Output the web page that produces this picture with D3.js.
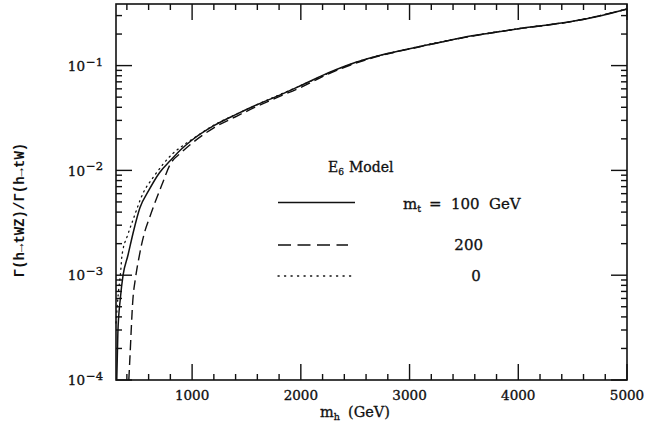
<!DOCTYPE html>
<html>
<head>
<meta charset="utf-8">
<script src="https://cdn.jsdelivr.net/npm/d3@7"></script>
<style>
  html, body { margin: 0; padding: 0; background: #fff; }
  svg { display: block; }
</style>
</head>
<body>
<svg id="chart" width="658" height="427"></svg>
<script>
// Ratio of partial widths Γ(h→tWZ)/Γ(h→tW) versus the Higgs mass, E6 model.

// Higgs mass (GeV) and width ratio for m_t = 100 GeV (solid)
const mhSolid = [307, 317, 340, 365, 410, 460, 520, 600, 700, 800, 900, 1000, 1200, 1400, 1600, 1800, 2000, 2250, 2500, 2750, 3000, 3250, 3500, 3750, 4000, 4250, 4500, 4750, 5000];
const ratioSolid = [1.0e-4, 2.8e-4, 6.0e-4, 1.0e-3, 1.55e-3, 2.6e-3, 4.4e-3, 6.4e-3, 9.5e-3, 0.0124, 0.0159, 0.0195, 0.0267, 0.0340, 0.0425, 0.0520, 0.0645, 0.0850, 0.107, 0.127, 0.145, 0.164, 0.186, 0.205, 0.225, 0.243, 0.265, 0.298, 0.347];

// m_t = 200 GeV (dashed)
const mhDashed = [418, 427, 455, 480, 510, 560, 611, 720, 800, 900, 1000, 1200, 1400, 1600, 1800, 2000, 2250, 2500, 2750, 3000, 3500, 4000, 4500, 5000];
const ratioDashed = [1.0e-4, 1.55e-4, 5.8e-4, 9.5e-4, 1.45e-3, 2.5e-3, 3.6e-3, 7.2e-3, 0.0115, 0.0148, 0.0182, 0.0255, 0.0325, 0.0410, 0.0505, 0.0620, 0.0830, 0.105, 0.126, 0.144, 0.185, 0.224, 0.264, 0.346];

// m_t = 0 (dotted)
const mhDotted = [300, 320, 344, 353, 363, 400, 455, 547, 650, 823, 900, 1000, 1200, 1400, 1600, 2000, 2500, 3000, 3500, 4000, 4500, 5000];
const ratioDotted = [3.5e-4, 6.5e-4, 1.12e-3, 1.48e-3, 1.73e-3, 2.3e-3, 3.34e-3, 6.0e-3, 8.8e-3, 0.0145, 0.0168, 0.0198, 0.0270, 0.0341, 0.0425, 0.0645, 0.107, 0.145, 0.186, 0.225, 0.265, 0.347];

// Axis ticks
const xMajorTicks = [1000, 2000, 3000, 4000, 5000];
const xMinorTicks = [400, 600, 800, 1200, 1400, 1600, 1800, 2200, 2400, 2600, 2800, 3200, 3400, 3600, 3800, 4200, 4400, 4600, 4800];
const yMajorTicks = [1e-4, 1e-3, 1e-2, 1e-1];
const yTickExponents = ["\u22124", "\u22123", "\u22122", "\u22121"];
const xDomain = [300, 5000];
const yDomain = [1e-4, 0.387];

// Legend
const legendTitle = ["E", "6", "Model"];
const legendLabels = ["100", "GeV", "200", "0"];

const svg = d3.select("#chart");
const ink = "#111";
const serif = "'DejaVu Serif', 'Liberation Serif', serif";

const margin = { left: 116, right: 627, top: 4, bottom: 380 };
const x = d3.scaleLinear().domain(xDomain).range([margin.left, margin.right]);
const y = d3.scaleLog().domain(yDomain).range([margin.bottom, margin.top]);

// y minor ticks: 2..9 within each decade inside the domain
const yMinorTicks = [];
for (let e = -4; e <= -1; e++) {
  for (let k = 2; k <= 9; k++) {
    const v = k * Math.pow(10, e);
    if (v < yDomain[1]) yMinorTicks.push(v);
  }
}

// Curves
const line = d3.line().x(d => x(d[0])).y(d => y(d[1])).curve(d3.curveMonotoneX);
const series = [
  { mh: mhDotted, r: ratioDotted, dash: "1.2,4.2", cap: "round", w: 1.3 },
  { mh: mhDashed, r: ratioDashed, dash: "10,5", cap: "butt", w: 1.4 },
  { mh: mhSolid, r: ratioSolid, dash: null, cap: "butt", w: 1.5 }
];
const plot = svg.append("g");
series.forEach(s => {
  plot.append("path")
    .datum(d3.zip(s.mh, s.r))
    .attr("d", line)
    .attr("fill", "none").attr("stroke", ink)
    .attr("stroke-width", s.w)
    .attr("stroke-linecap", s.cap)
    .attr("stroke-dasharray", s.dash);
});

// Frame
svg.append("rect")
  .attr("x", margin.left).attr("y", margin.top)
  .attr("width", margin.right - margin.left).attr("height", margin.bottom - margin.top)
  .attr("fill", "none").attr("stroke", ink).attr("stroke-width", 1.6);

// Inward-pointing tick marks on all four sides, drawn as thin filled bars
const majorLen = 16, minorLen = 6, tickW = 1.4;
const tickMarks = [];
xMajorTicks.forEach(v => tickMarks.push({ axis: "x", v, len: majorLen }));
xMinorTicks.forEach(v => tickMarks.push({ axis: "x", v, len: minorLen }));
yMajorTicks.forEach(v => tickMarks.push({ axis: "y", v, len: majorLen }));
yMinorTicks.forEach(v => tickMarks.push({ axis: "y", v, len: minorLen }));
const tickRects = [];
tickMarks.forEach(t => {
  if (t.axis === "x") {
    const px = x(t.v) - tickW / 2;
    tickRects.push({ x: px, y: margin.bottom - t.len, w: tickW, h: t.len });
    tickRects.push({ x: px, y: margin.top, w: tickW, h: t.len });
  } else {
    const py = y(t.v) - tickW / 2;
    tickRects.push({ x: margin.left, y: py, w: t.len, h: tickW });
    tickRects.push({ x: margin.right - t.len, y: py, w: t.len, h: tickW });
  }
});
svg.append("g").attr("fill", ink)
  .selectAll("rect").data(tickRects).join("rect")
  .attr("x", d => d.x).attr("y", d => d.y)
  .attr("width", d => d.w).attr("height", d => d.h);

// Tick labels
const labelStyle = sel => sel.attr("font-family", serif).attr("font-size", 13.5)
  .attr("fill", ink).attr("stroke", ink).attr("stroke-width", 0.35);
svg.append("g").call(labelStyle).attr("text-anchor", "middle")
  .selectAll("text").data(xMajorTicks).join("text")
  .attr("x", d => x(d)).attr("y", margin.bottom + 20)
  .text(d3.format("d"));
const yl = svg.append("g").call(labelStyle).attr("text-anchor", "end")
  .selectAll("text").data(yMajorTicks).join("text")
  .attr("x", margin.left - 13).attr("y", d => y(d)).attr("dy", "0.38em")
  .text("10");
yl.append("tspan").attr("dx", 1).attr("dy", "-0.45em").attr("font-size", 11.5)
  .text((d, i) => yTickExponents[i]);

// Legend
const lg = svg.append("g").attr("font-family", serif).attr("fill", ink)
  .attr("stroke", ink).attr("stroke-width", 0.3);
const title = lg.append("text").attr("x", 328).attr("y", 172).attr("font-size", 14);
title.append("tspan").text(legendTitle[0]);
title.append("tspan").attr("dy", 3).attr("font-size", 9).text(legendTitle[1]);
title.append("tspan").attr("dy", -3).attr("x", 349).text(legendTitle[2]);

const legendRows = [
  { y: 202.5, dash: null, cap: "butt", x2: 355, w: 1.5 },
  { y: 245, dash: "13,6.5", cap: "butt", x2: 348, w: 1.4 },
  { y: 276, dash: "1.2,5.3", cap: "round", x2: 355, w: 1.3 }
];
legendRows.forEach(r => {
  lg.append("line").attr("x1", 278).attr("x2", r.x2).attr("y1", r.y).attr("y2", r.y)
    .attr("stroke", ink).attr("stroke-width", r.w)
    .attr("stroke-linecap", r.cap).attr("stroke-dasharray", r.dash);
});
const l1 = lg.append("text").attr("y", 209).attr("font-size", 15);
l1.append("tspan").attr("x", 403).text("m");
l1.append("tspan").attr("dy", 3).attr("font-size", 9.5).text("t");
l1.append("tspan").attr("dy", -3).attr("x", 429).text("=");
l1.append("tspan").attr("x", 451).text(legendLabels[0]);
l1.append("tspan").attr("x", 489).text(legendLabels[1]);
lg.append("text").attr("x", 483).attr("y", 250).attr("font-size", 15).attr("text-anchor", "end").text(legendLabels[2]);
lg.append("text").attr("x", 476).attr("y", 281).attr("font-size", 15).attr("text-anchor", "middle").text(legendLabels[3]);

// Axis titles
const xt = svg.append("text").attr("y", 417)
  .attr("font-family", serif).attr("font-size", 14.5).attr("fill", ink)
  .attr("stroke", ink).attr("stroke-width", 0.3);
xt.append("tspan").attr("x", 320).text("m");
xt.append("tspan").attr("dy", 3).attr("font-size", 9.5).text("h");
xt.append("tspan").attr("dy", -3).attr("x", 348).text("(GeV)");

svg.append("text")
  .attr("transform", "translate(24,210) rotate(-90)")
  .attr("text-anchor", "middle")
  .attr("font-family", "'Liberation Mono', 'DejaVu Sans Mono', monospace")
  .attr("font-size", 14).attr("font-weight", "bold").attr("fill", ink)
  .text("\u0393(h\u2192tWZ)/\u0393(h\u2192tW)");
</script>
</body>
</html>
